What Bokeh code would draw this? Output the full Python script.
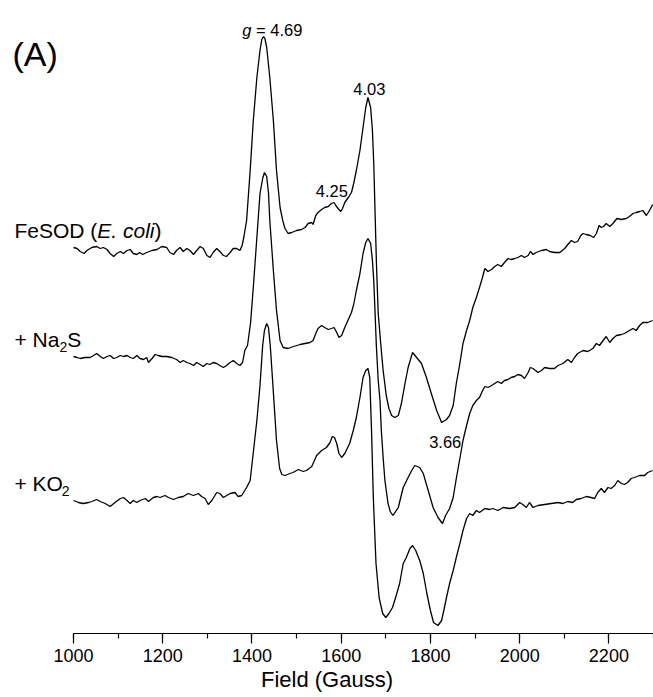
import math
from bokeh.plotting import figure
from bokeh.models import Label, SingleIntervalTicker, Range1d
from bokeh.embed import file_html
from bokeh.resources import INLINE

# ---------------- data (field in Gauss, intensity in arbitrary units) ----------------
field_fesod = [1000, 1008, 1015, 1024, 1030, 1041, 1052, 1060, 1067, 1075, 1082, 1090, 1097, 1105, 1112, 1120,
               1127, 1134, 1142, 1148, 1155, 1164, 1176, 1187, 1198, 1209, 1216, 1224, 1231, 1239, 1246, 1254,
               1261, 1269, 1276, 1284, 1291, 1299, 1306, 1313, 1321, 1328, 1336, 1343, 1351, 1358, 1366, 1373,
               1378, 1382, 1388, 1396, 1403, 1411, 1418, 1422, 1426, 1429, 1433, 1440, 1448, 1455, 1463, 1469,
               1474, 1481, 1489, 1500, 1511, 1519, 1526, 1534, 1537, 1543, 1548, 1556, 1563, 1571, 1578, 1584,
               1588, 1593, 1599, 1603, 1608, 1616, 1623, 1628, 1634, 1642, 1649, 1655, 1660, 1666, 1670, 1673,
               1676, 1679, 1683, 1688, 1694, 1701, 1707, 1713, 1720, 1728, 1735, 1743, 1750, 1760, 1769, 1780,
               1791, 1802, 1814, 1825, 1836, 1843, 1851, 1858, 1866, 1873, 1881, 1888, 1895, 1903, 1910, 1916,
               1922, 1929, 1937, 1944, 1951, 1959, 1966, 1974, 1981, 1989, 1996, 2004, 2011, 2019, 2024, 2030,
               2037, 2049, 2060, 2067, 2078, 2090, 2101, 2108, 2116, 2123, 2130, 2137, 2142, 2149, 2158, 2166,
               2172, 2178, 2183, 2188, 2194, 2202, 2209, 2218, 2228, 2239, 2246, 2254, 2261, 2269, 2276, 2284,
               2291, 2298]
int_fesod = [1, 0, -3, -5, -2, 1, 2, 0, 1, -1, -5, -8, -5, -3, -5, -2,
             -1, -5, -6, -4, -6, -4, -2, -1, 2, 1, -4, -6, -2, 1, -3, 0,
             -2, -6, -2, 2, 0, -7, -9, -4, 0, -3, -7, -8, -4, 0, 0, -2,
             3, 12, 28, 78, 128, 171, 198, 209, 212, 210, 201, 171, 128, 78, 41, 28,
             20, 15, 16, 18, 19, 21, 25, 26, 24, 33, 36, 39, 41, 42, 45, 46,
             43, 40, 37, 40, 46, 51, 56, 65, 78, 98, 121, 141, 151, 141, 118, 85,
             35, -15, -65, -92, -122, -147, -160, -167, -169, -167, -155, -135, -119, -104, -109, -115,
             -129, -145, -162, -174, -171, -167, -157, -135, -115, -95, -82, -72, -59, -49, -39, -30,
             -20, -23, -21, -18, -16, -18, -14, -10, -11, -10, -9, -7, -9, -7, -3, -6,
             -4, -2, -1, -3, -4, -4, 0, 4, 8, 6, 7, 13, 15, 14, 13, 11,
             15, 23, 21, 22, 25, 22, 25, 30, 29, 30, 32, 35, 36, 37, 38, 33,
             38, 44]

field_na2s = [1000, 1008, 1015, 1026, 1037, 1045, 1052, 1060, 1067, 1075, 1082, 1090, 1097, 1105, 1112, 1120,
              1127, 1134, 1142, 1149, 1157, 1164, 1168, 1176, 1183, 1190, 1198, 1209, 1220, 1231, 1239, 1246,
              1254, 1261, 1269, 1276, 1284, 1291, 1299, 1306, 1313, 1321, 1328, 1336, 1343, 1351, 1358, 1366,
              1373, 1379, 1384, 1390, 1397, 1403, 1411, 1418, 1424, 1428, 1433, 1437, 1440, 1448, 1455, 1463,
              1470, 1481, 1493, 1508, 1519, 1530, 1537, 1543, 1548, 1556, 1563, 1571, 1578, 1584, 1590, 1595,
              1601, 1608, 1616, 1623, 1628, 1634, 1642, 1649, 1655, 1660, 1666, 1670, 1673, 1676, 1679, 1683,
              1687, 1690, 1694, 1698, 1705, 1710, 1716, 1728, 1739, 1750, 1758, 1765, 1776, 1784, 1795, 1806,
              1817, 1827, 1834, 1843, 1851, 1858, 1866, 1873, 1881, 1888, 1895, 1903, 1910, 1917, 1922, 1929,
              1937, 1944, 1951, 1959, 1966, 1974, 1981, 1989, 1996, 2004, 2011, 2019, 2024, 2030, 2041, 2049,
              2056, 2067, 2078, 2086, 2097, 2108, 2116, 2123, 2130, 2142, 2153, 2164, 2172, 2179, 2187, 2194,
              2202, 2209, 2217, 2228, 2235, 2246, 2254, 2261, 2269, 2276, 2287, 2298]
int_na2s = [1, 0, -1, 0, 0, 2, 4, 1, -1, 1, 2, -1, 0, 2, 1, 2,
            0, -1, 2, -1, -2, 0, -5, -1, 3, 2, 1, 1, 0, -2, -5, -3,
            -5, -6, -8, -5, -7, -9, -6, -7, -5, -6, -8, -10, -8, -5, -3, -6,
            -8, -5, 7, 12, 35, 70, 120, 164, 179, 185, 181, 165, 137, 87, 47, 17,
            10, 9, 11, 13, 14, 15, 17, 24, 29, 32, 30, 28, 29, 30, 25, 20,
            22, 30, 38, 45, 53, 67, 84, 104, 115, 119, 114, 97, 77, 44, 10, -23,
            -43, -73, -100, -123, -146, -154, -158, -150, -130, -120, -113, -108, -110, -116, -133, -150,
            -160, -166, -158, -151, -140, -121, -101, -83, -68, -56, -48, -43, -40, -33, -29, -30,
            -28, -26, -24, -26, -23, -22, -20, -19, -17, -18, -21, -15, -10, -11, -15, -13,
            -10, -11, -11, -8, -6, -2, -5, 0, 4, 7, 6, 9, 14, 12, 17, 21,
            15, 19, 22, 23, 24, 27, 29, 27, 32, 35, 35, 37]

field_ko2 = [1000, 1011, 1022, 1034, 1041, 1052, 1060, 1071, 1082, 1093, 1105, 1112, 1120, 1127, 1134, 1142,
             1149, 1161, 1168, 1179, 1187, 1194, 1205, 1213, 1224, 1235, 1246, 1257, 1269, 1280, 1287, 1295,
             1302, 1310, 1321, 1328, 1336, 1351, 1362, 1369, 1377, 1388, 1396, 1402, 1411, 1418, 1424, 1428,
             1433, 1437, 1441, 1447, 1455, 1462, 1467, 1474, 1485, 1492, 1504, 1515, 1522, 1534, 1545, 1556,
             1567, 1575, 1580, 1585, 1590, 1595, 1601, 1608, 1619, 1627, 1634, 1642, 1649, 1655, 1660, 1664,
             1668, 1672, 1678, 1685, 1693, 1700, 1707, 1715, 1722, 1731, 1739, 1746, 1754, 1760, 1767, 1776,
             1784, 1792, 1800, 1807, 1817, 1825, 1830, 1836, 1843, 1851, 1858, 1866, 1873, 1881, 1888, 1895,
             1903, 1910, 1922, 1933, 1940, 1951, 1963, 1978, 1989, 2000, 2007, 2015, 2022, 2030, 2041, 2056,
             2071, 2086, 2097, 2108, 2119, 2127, 2138, 2149, 2160, 2168, 2175, 2183, 2190, 2198, 2205, 2213,
             2220, 2228, 2235, 2242, 2250, 2257, 2269, 2280, 2287, 2298]
int_ko2 = [0, -2, -3, -2, -1, 1, -1, -3, -6, -2, 2, 3, 0, -3, 0, -2,
           0, 2, -1, 3, 4, 3, 5, 3, 1, 3, 4, 7, 5, 7, 4, 2,
           -4, 0, 8, 7, 3, 7, 8, 4, 5, 13, 20, 44, 80, 115, 155, 170,
           177, 173, 155, 115, 60, 32, 26, 25, 27, 28, 31, 29, 30, 34, 45, 50,
           53, 58, 64, 63, 57, 47, 43, 47, 57, 70, 83, 103, 123, 130, 132, 123,
           70, 3, -63, -97, -113, -117, -113, -107, -97, -83, -63, -57, -48, -45, -50, -60,
           -73, -93, -110, -122, -125, -120, -110, -97, -83, -70, -57, -43, -30, -18, -13, -15,
           -10, -12, -8, -9, -8, -10, -7, -8, -7, -2, -4, -7, -2, -7, -5, -4,
           -3, -2, -3, -1, -2, 1, 2, 4, 3, 2, 8, 12, 8, 13, 12, 15,
           20, 17, 16, 18, 22, 23, 25, 25, 28, 30]

# vertical offsets used to stack the three spectra
offset_fesod = 385
offset_na2s = 276
offset_ko2 = 133

tick_interval = 200
axis_start, axis_end = 1000, 2300

# ---------------- figure geometry ----------------
W, H = 653, 697
AXIS_LEFT_PX = 73          # pixel where the axis (1000 G) starts
BOTTOM = 64                # room below the frame for the axis
FRAME_H = H - BOTTOM
SX = (W - AXIS_LEFT_PX) / (axis_end - axis_start)
view_start = axis_start - AXIS_LEFT_PX / SX


def xd(px):
    """canvas pixel x -> data x"""
    return view_start + px / SX


def yd(py):
    """canvas pixel y -> data y"""
    return FRAME_H - py


p = figure(width=W, height=H, output_backend="svg", toolbar_location=None,
           x_range=Range1d(view_start, axis_end), y_range=Range1d(0, FRAME_H),
           min_border_left=0, min_border_right=0, min_border_top=0, min_border_bottom=BOTTOM,
           y_axis_location=None)
p.outline_line_color = None
p.xgrid.visible = False
p.ygrid.visible = False
p.background_fill_color = "white"
p.border_fill_color = "white"

ax = p.xaxis[0]
ax.bounds = (axis_start, axis_end)
ax.ticker = SingleIntervalTicker(interval=tick_interval, num_minor_ticks=2)
ax.major_tick_in = 0
ax.major_tick_out = 10
ax.minor_tick_in = 0
ax.minor_tick_out = 5
ax.axis_line_color = "black"
ax.axis_line_width = 1.2
ax.major_tick_line_color = "black"
ax.major_tick_line_width = 1.2
ax.minor_tick_line_color = "black"
ax.minor_tick_line_width = 1.2
ax.major_label_text_font = "Liberation Sans"
ax.major_label_text_font_size = "18px"
ax.major_label_text_color = "black"
ax.major_label_standoff = 5
ax.axis_label = "Field (Gauss)"
ax.axis_label_text_font = "Liberation Sans"
ax.axis_label_text_font_size = "22px"
ax.axis_label_text_font_style = "normal"
ax.axis_label_text_color = "black"
ax.axis_label_standoff = 2

# spectra
for fx, iy, off in [(field_fesod, int_fesod, offset_fesod),
                    (field_na2s, int_na2s, offset_na2s),
                    (field_ko2, int_ko2, offset_ko2)]:
    p.line(fx, [v + off for v in iy], line_color="black", line_width=1.3)

FONT = "Liberation Sans"


def lab(px, py, text, size, style="normal", align="left"):
    p.add_layout(Label(x=xd(px), y=yd(py), text=text, text_font=FONT, text_font_size=size,
                       text_font_style=style, text_align=align, text_baseline="alphabetic",
                       text_color="black"))


lab(12, 53, "(A)", "34px")
lab(241.7, 29.3, "g", "16.5px", "italic")
lab(255.5, 29.3, "= 4.69", "16.5px")
lab(368.8, 88.3, "4.03", "16.5px", align="center")
lab(331.3, 190, "4.25", "16.5px", align="center")
lab(444.7, 441, "3.66", "16.5px", align="center")

lab(14, 230, "FeSOD (", "21px")
lab(14 + 3.945 * 21, 230, "E. coli", "21px", "italic")
lab(14 + 6.668 * 21, 230, ")", "21px")

lab(14, 339.3, "+ Na", "21px")
lab(14 + 2.14 * 21, 346, "2", "14px")
lab(14 + 2.14 * 21 + 0.556 * 14, 339.3, "S", "21px")

lab(14, 483.3, "+ KO", "21px")
lab(14 + 2.251 * 21, 490.7, "2", "14px")

open("out.html", "w").write(file_html(p, INLINE))
